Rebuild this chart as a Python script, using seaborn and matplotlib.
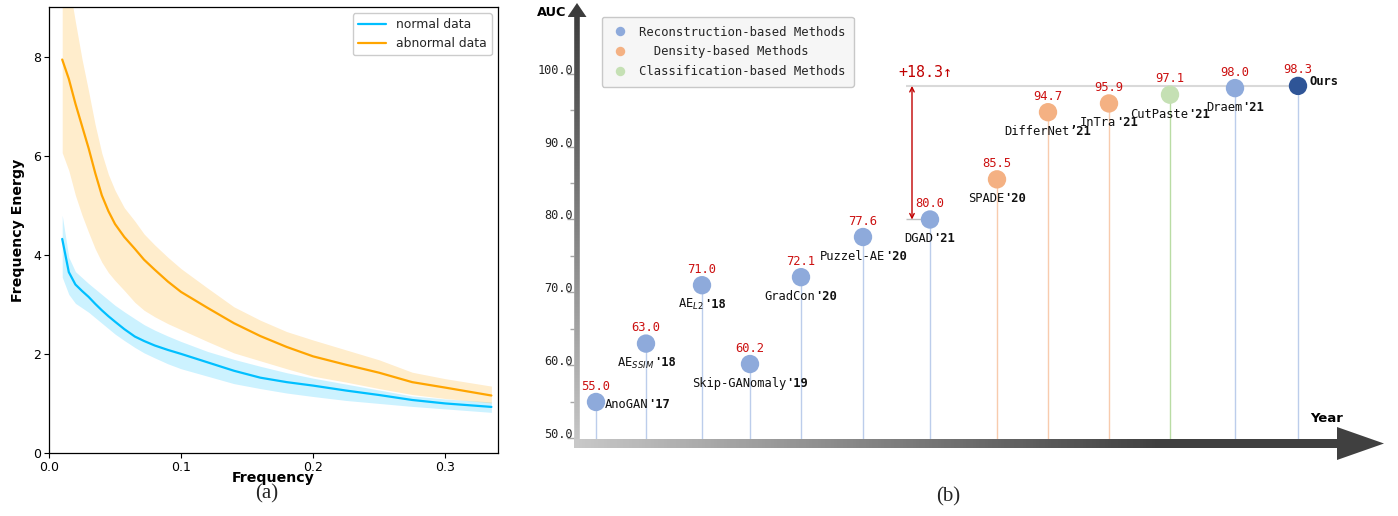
import numpy as np
import pandas as pd
import matplotlib
matplotlib.use("Agg")
import matplotlib.pyplot as plt
import seaborn as sns
from matplotlib.patches import Polygon
from matplotlib.lines import Line2D
from matplotlib.colors import LinearSegmentedColormap
from matplotlib.offsetbox import TextArea, HPacker, AnnotationBbox

# ---------------- panel (a) data ----------------
freq = [0.010, 0.015, 0.020, 0.025, 0.030, 0.035, 0.040, 0.045, 0.050, 0.057,
        0.065, 0.072, 0.080, 0.090, 0.100, 0.120, 0.140, 0.160, 0.180, 0.200,
        0.225, 0.250, 0.275, 0.300, 0.335]
normal_mean = [4.32, 3.65, 3.40, 3.27, 3.15, 3.01, 2.88, 2.76, 2.65, 2.50,
               2.35, 2.26, 2.17, 2.08, 2.00, 1.83, 1.66, 1.52, 1.43, 1.36,
               1.26, 1.17, 1.07, 1.00, 0.93]
normal_lower = [3.55, 3.20, 3.02, 2.93, 2.84, 2.73, 2.62, 2.51, 2.40, 2.27,
                2.13, 2.02, 1.92, 1.80, 1.70, 1.55, 1.40, 1.30, 1.21, 1.14,
                1.06, 1.00, 0.94, 0.89, 0.82]
normal_upper = [4.80, 3.95, 3.66, 3.54, 3.42, 3.31, 3.20, 3.09, 2.98, 2.85,
                2.71, 2.59, 2.48, 2.36, 2.25, 2.05, 1.89, 1.75, 1.62, 1.51,
                1.39, 1.27, 1.15, 1.09, 1.03]
abnormal_mean = [7.94, 7.55, 7.05, 6.60, 6.15, 5.65, 5.20, 4.88, 4.62, 4.36,
                 4.12, 3.90, 3.70, 3.46, 3.25, 2.93, 2.62, 2.36, 2.14, 1.95,
                 1.78, 1.62, 1.43, 1.32, 1.16]
abnormal_lower = [6.06, 5.70, 5.20, 4.80, 4.45, 4.12, 3.85, 3.64, 3.48, 3.28,
                  3.04, 2.88, 2.75, 2.61, 2.49, 2.25, 2.02, 1.86, 1.70, 1.55,
                  1.43, 1.30, 1.18, 1.10, 1.01]
abnormal_upper = [10.2, 9.50, 8.70, 7.95, 7.30, 6.62, 6.05, 5.62, 5.30, 4.95,
                  4.68, 4.42, 4.20, 3.95, 3.72, 3.33, 2.95, 2.68, 2.45, 2.28,
                  2.08, 1.88, 1.63, 1.50, 1.35]
series_labels = ["normal data", "abnormal data"]

# ---------------- panel (b) data ----------------
methods = ["AnoGAN", "AE$_{SSIM}$", "AE$_{L2}$", "Skip-GANomaly", "GradCon",
           "Puzzel-AE", "DGAD", "SPADE", "DifferNet", "InTra", "CutPaste",
           "Draem", "Ours"]
years = ["'17", "'18", "'18", "'19", "'20", "'20", "'21", "'20", "\u201921",
         "'21", "'21", "'21", ""]
auc = [55.0, 63.0, 71.0, 60.2, 72.1, 77.6, 80.0, 85.5, 94.7, 95.9, 97.1, 98.0, 98.3]
groups = ["Reconstruction", "Reconstruction", "Reconstruction", "Reconstruction",
          "Reconstruction", "Reconstruction", "Reconstruction", "Density",
          "Density", "Density", "Classification", "Reconstruction", "Ours"]
timeline = [36, 86, 142, 190, 241, 303, 370, 437, 488, 549, 610, 675, 738]
legend_groups = ["Reconstruction", "Density", "Classification"]
legend_labels = ["Reconstruction-based Methods", "  Density-based Methods",
                 "Classification-based Methods"]
auc_ticks = [50, 60, 70, 80, 90, 100]
auc_minor = [55, 65, 75, 85, 95]

# ---------------- style ----------------
sns.set_theme(style="ticks")
plt.rcParams["font.family"] = ["DejaVu Sans"]
MONO = ["DejaVu Sans Mono", "DejaVu Sans"]

W, H = 1398, 516
fig = plt.figure(figsize=(W / 100, H / 100), dpi=100)
fig.patch.set_facecolor("white")

# ================= panel (a) =================
axa = fig.add_axes([49 / W, 1 - 453 / H, 449 / W, 446 / H])
sns.lineplot(x=freq, y=normal_mean, ax=axa, color="#00bfff", lw=1.6,
             label=series_labels[0])
axa.fill_between(freq, normal_lower, normal_upper, color="#00bfff", alpha=0.2, lw=0)
sns.lineplot(x=freq, y=abnormal_mean, ax=axa, color="#ffa500", lw=1.6,
             label=series_labels[1])
axa.fill_between(freq, abnormal_lower, abnormal_upper, color="#ffa500", alpha=0.2, lw=0)
axa.set_xlim(0, 0.34)
axa.set_ylim(0, 9)
axa.set_xticks([0.0, 0.1, 0.2, 0.3])
axa.set_yticks([0, 2, 4, 6, 8])
axa.tick_params(labelsize=9, length=3.5, width=0.8, color="black", labelcolor="black", pad=2)
for s in axa.spines.values():
    s.set_visible(True)
    s.set_color("black")
    s.set_linewidth(0.9)
axa.set_xlabel("Frequency", fontweight="bold", fontsize=10.2, color="black")
axa.set_ylabel("Frequency Energy", fontweight="bold", fontsize=10.2, color="black")
axa.xaxis.set_label_coords(0.5, -25 / 446)
axa.xaxis.label.set_va("center")
axa.yaxis.set_label_coords(-31 / 449, 0.5)
axa.yaxis.label.set_va("center")
leg = axa.legend(loc="upper right", fontsize=8.9, frameon=True, fancybox=True,
                 framealpha=1, edgecolor="#cccccc", handlelength=2.3)
fig.text(267 / W, 1 - 494 / H, "(a)", family="Liberation Serif", fontsize=15,
         ha="center", va="center")

# ================= panel (b) =================
L, R, T, B = 560, 1392, 0, 466
axb = fig.add_axes([L / W, 1 - B / H, (R - L) / W, (B - T) / H])
axb.patch.set_alpha(0)


def fx(px):
    return (px - L) / (R - L)


def fy(py):
    return (B - py) / (B - T)


def grad_arrow(ax, verts_px, direction, stops, z):
    verts = [(fx(a), fy(b)) for a, b in verts_px]
    poly = Polygon(verts, closed=True, transform=ax.transAxes,
                   facecolor="none", edgecolor="none")
    ax.add_patch(poly)
    xs = [v[0] for v in verts]
    ys = [v[1] for v in verts]
    g = np.linspace(0, 1, 256)
    arr = g[None, :] if direction == "x" else g[:, None]
    cmap = LinearSegmentedColormap.from_list("g", stops)
    im = ax.imshow(arr, extent=(min(xs), max(xs), min(ys), max(ys)), origin="lower",
                   transform=ax.transAxes, cmap=cmap, aspect="auto", zorder=z,
                   interpolation="bilinear")
    im.set_clip_path(poly)


df = pd.DataFrame({"method": methods, "year": years, "auc": auc,
                   "group": groups, "timeline": timeline})
palette = {"Reconstruction": "#8eaadb", "Density": "#f4b183",
           "Classification": "#c5e0b4", "Ours": "#2f5597"}
stem_palette = {"Reconstruction": "#bccdeb", "Density": "#f8cbad",
                "Classification": "#b9dca4", "Ours": "#bccdeb"}

# axis arrows (decoration)
grad_arrow(axb, [(574.2, 448), (579.8, 448), (579.8, 17), (586.5, 17), (577, 3),
                 (567.5, 17), (574.2, 17)], "y", ["#c8c8c8", "#3a3a3a"], 3)
grad_arrow(axb, [(574, 448), (1337, 448), (1337, 460), (1384, 443.5), (1337, 427),
                 (1337, 439), (574, 439)], "x",
           [(0, "#c8c8c8"), (0.72, "#414141"), (1, "#404040")], 3.5)

# stems
axb.vlines(df["timeline"], 49.4, df["auc"],
           colors=[stem_palette[g] for g in df["group"]], lw=1.0, zorder=2)

# points
sns.scatterplot(data=df, x="timeline", y="auc", hue="group", palette=palette,
                s=175, linewidth=0, legend=False, ax=axb, zorder=4)

# reference lines and gain arrow
i_dgad = methods.index("DGAD")
i_ours = methods.index("Ours")
x_dgad, x_ours = timeline[i_dgad], timeline[i_ours]
axb.hlines(auc[i_ours], x_dgad - 24, x_ours, color="#d9d9d9", lw=1.5, zorder=1)
axb.hlines(auc[i_dgad], x_dgad - 24, x_dgad, color="#bfbfbf", lw=1.0, zorder=1)
axb.annotate("", xy=(x_dgad - 18, auc[i_dgad]), xytext=(x_dgad - 18, auc[i_ours]),
             arrowprops=dict(arrowstyle="<->", color="#c00000", lw=1.0,
                             shrinkA=0, shrinkB=0, mutation_scale=8), zorder=5)
axb.annotate(f"+{auc[i_ours] - auc[i_dgad]:.1f}\u2191", (x_dgad - 5, auc[i_ours]),
             xytext=(0, 9.5), textcoords="offset points", ha="center", va="center",
             color="#c00000", family=MONO, fontsize=10.8, zorder=6)

# value and name labels
for i, row in df.iterrows():
    axb.annotate(f"{row.auc:.1f}", (row.timeline, row.auc), xytext=(0, 11.5),
                 textcoords="offset points", ha="center", va="center",
                 color="#cc1111", family=MONO, fontsize=8.7, zorder=6)
    tp = dict(family=MONO, size=8.7, color="#111111")
    if row.method == "Ours":
        ta = TextArea(row.method, textprops=dict(tp, weight="bold"))
        ab = AnnotationBbox(ta, (row.timeline, row.auc), xybox=(8.6, 3),
                            boxcoords="offset points", frameon=False,
                            box_alignment=(0, 0.5), pad=0)
    else:
        parts = [TextArea(row.method, textprops=tp),
                 TextArea(row.year, textprops=dict(tp, weight="bold"))]
        box = HPacker(children=parts, align="baseline", pad=0, sep=0)
        if i == 0:
            ab = AnnotationBbox(box, (row.timeline, row.auc), xybox=(6.3, -1.5),
                                boxcoords="offset points", frameon=False,
                                box_alignment=(0, 0.5), pad=0)
        else:
            ab = AnnotationBbox(box, (row.timeline, row.auc), xybox=(0, -14),
                                boxcoords="offset points", frameon=False,
                                box_alignment=(0.5, 0.5), pad=0)
    ab.set_zorder(6)
    axb.add_artist(ab)

# axes setup
axb.set_xlim(0, R - L)
axb.set_ylim(46.23, 110.07)
for side in ["top", "right", "bottom"]:
    axb.spines[side].set_visible(False)
axb.spines["left"].set_position(("axes", fx(574)))
axb.spines["left"].set_color("none")
axb.set_xticks([])
axb.set_yticks(auc_ticks)
axb.set_yticks(auc_minor, minor=True)
axb.set_yticklabels([f"{t:.1f}" for t in auc_ticks])
axb.tick_params(axis="y", which="major", length=5, width=1, color="#a6a6a6",
                pad=-4.3, labelsize=8.6, labelcolor="#222222")
axb.tick_params(axis="y", which="minor", length=3, width=1, color="#a6a6a6")
plt.setp(axb.get_yticklabels(), va="baseline", family=MONO)
axb.set_xlabel("")
axb.set_ylabel("")

axb.text(fx(566), fy(12), "AUC", transform=axb.transAxes, ha="right", va="center",
         fontweight="bold", fontsize=9.3, color="black")
axb.text(fx(1327), fy(418), "Year", transform=axb.transAxes, ha="center",
         va="center", fontweight="bold", fontsize=9.5, color="black")

handles = [Line2D([], [], marker="o", ls="none", markersize=6.8,
                  markerfacecolor=palette[g], markeredgecolor="none")
           for g in legend_groups]
axb.legend(handles, legend_labels, loc="upper left",
           bbox_to_anchor=(fx(602), fy(17)), borderaxespad=0,
           prop=dict(family=MONO, size=8.8), frameon=True, fancybox=True,
           facecolor="#f6f6f6", edgecolor="#c8c8c8", framealpha=1,
           handlelength=1.6, handletextpad=0.7, labelspacing=0.55, borderpad=0.7)

fig.text(948 / W, 1 - 497 / H, "(b)", family="Liberation Serif", fontsize=15,
         ha="center", va="center")

fig.savefig("out.png", dpi=100, facecolor="white")
